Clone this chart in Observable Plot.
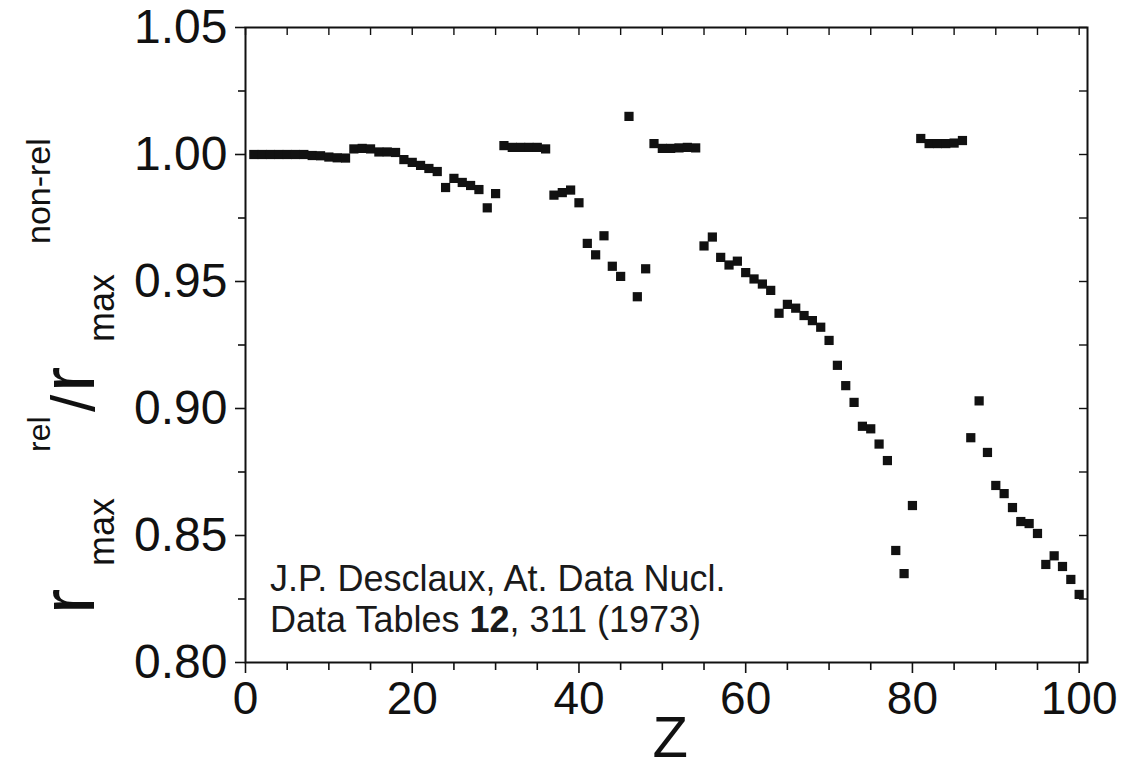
<!DOCTYPE html>
<html>
<head>
<meta charset="utf-8">
<script src="https://cdn.jsdelivr.net/npm/d3@7"></script>
<script src="https://cdn.jsdelivr.net/npm/@observablehq/plot@0.6"></script>
<style>
  html, body { margin: 0; padding: 0; background: #fff; }
  #chart { width: 1124px; height: 771px; }
</style>
</head>
<body>
<div id="chart"></div>
<script>
// Atomic number Z
const atomicNumber = [
  1, 2, 3, 4, 5, 6, 7, 8, 9, 10,
  11, 12, 13, 14, 15, 16, 17, 18, 19, 20,
  21, 22, 23, 24, 25, 26, 27, 28, 29, 30,
  31, 32, 33, 34, 35, 36, 37, 38, 39, 40,
  41, 42, 43, 44, 45, 46, 47, 48, 49, 50,
  51, 52, 53, 54, 55, 56, 57, 58, 59, 60,
  61, 62, 63, 64, 65, 66, 67, 68, 69, 70,
  71, 72, 73, 74, 75, 76, 77, 78, 79, 80,
  81, 82, 83, 84, 85, 86, 87, 88, 89, 90,
  91, 92, 93, 94, 95, 96, 97, 98, 99, 100
];
// r_max(rel) / r_max(non-rel) of the outermost orbital
const rmaxRatio = [
  1.0000, 1.0000, 1.0000, 1.0000, 1.0000, 1.0000, 1.0000, 0.9996, 0.9995, 0.9990,
  0.9987, 0.9986, 1.0022, 1.0024, 1.0022, 1.0010, 1.0010, 1.0008, 0.9980, 0.9969,
  0.9957, 0.9945, 0.9933, 0.9870, 0.9906, 0.9890, 0.9878, 0.9862, 0.9790, 0.9846,
  1.0035, 1.0028, 1.0028, 1.0028, 1.0028, 1.0022, 0.9840, 0.9850, 0.9860, 0.9810,
  0.9650, 0.9605, 0.9680, 0.9560, 0.9520, 1.0150, 0.9440, 0.9550, 1.0043, 1.0024,
  1.0024, 1.0026, 1.0028, 1.0026, 0.9640, 0.9675, 0.9595, 0.9565, 0.9580, 0.9535,
  0.9510, 0.9490, 0.9465, 0.9375, 0.9410, 0.9395, 0.9366, 0.9346, 0.9320, 0.9268,
  0.9170, 0.9090, 0.9024, 0.8930, 0.8920, 0.8860, 0.8795, 0.8441, 0.8350, 0.8618,
  1.0063, 1.0043, 1.0043, 1.0043, 1.0045, 1.0055, 0.8885, 0.9030, 0.8827, 0.8697,
  0.8665, 0.8610, 0.8555, 0.8547, 0.8508, 0.8386, 0.8420, 0.8378, 0.8327, 0.8268
];
const xMajorTicks = [0, 20, 40, 60, 80, 100];
const xMinorTicks = [5, 10, 15, 25, 30, 35, 45, 50, 55, 65, 70, 75, 85, 90, 95];
const yMajorTicks = [0.80, 0.85, 0.90, 0.95, 1.00, 1.05];
const yMinorTicks = [0.825, 0.875, 0.925, 0.975, 1.025];
const xDomain = [0, 101];
const yDomain = [0.80, 1.05];
const xLabel = "Z";
const citationLine1 = "J.P. Desclaux, At. Data Nucl.";
const citationLine2 = ["Data Tables ", "12", ", 311 (1973)"];

const table = atomicNumber.map((z, i) => ({z, r: rmaxRatio[i]}));

const FONT = "'Liberation Sans', Arial, Helvetica, sans-serif";
const INK = "#111";
const W = 1124, H = 771;
const mL = 245, mR = 37, mT = 27, mB = 109;
const plotW = W - mL - mR, plotH = H - mT - mB;

const chart = Plot.plot({
  width: W, height: H,
  marginLeft: mL, marginRight: mR, marginTop: mT, marginBottom: mB,
  style: {fontFamily: FONT, color: INK, background: "#fff", overflow: "visible"},
  x: {domain: xDomain},
  y: {domain: yDomain},
  marks: [
    Plot.axisX(xMajorTicks, {anchor: "bottom", tickSize: 11, tickPadding: 8, strokeWidth: 1.6,
      tickFormat: d => String(d), fontSize: 46, label: null}),
    Plot.axisX(xMinorTicks, {anchor: "bottom", tickSize: 8, strokeWidth: 1.6, text: null, label: null}),
    Plot.axisY(yMajorTicks, {anchor: "left", tickSize: 10, tickPadding: 8, strokeWidth: 1.6,
      tickFormat: d3.format(".2f"), fontSize: 48, label: null}),
    Plot.axisY(yMinorTicks, {anchor: "left", tickSize: 7, strokeWidth: 1.6, text: null, label: null}),
    // inward ticks on top and right edges
    Plot.tickX(xMajorTicks.concat(xMinorTicks), {x: d => d, insetBottom: plotH - 8, stroke: INK, strokeWidth: 1.4}),
    Plot.tickY(yMajorTicks.concat(yMinorTicks), {y: d => d, insetLeft: plotW - 8, stroke: INK, strokeWidth: 1.4}),
    Plot.frame({stroke: INK, strokeWidth: 2}),
    Plot.dot(table, {x: "z", y: "r", symbol: "square", r: 5.2, fill: INK, stroke: "none"})
  ]
});

document.getElementById("chart").appendChild(chart);

const svg = d3.select(chart);

// x-axis title
svg.append("text")
  .attr("x", mL + plotW * 0.505).attr("y", 757)
  .attr("text-anchor", "middle")
  .attr("font-family", FONT).attr("font-size", 58).attr("fill", INK)
  .text(xLabel);

// y-axis title: r_max^rel / r_max^non-rel (rotated)
const ylab = svg.append("text")
  .attr("transform", "rotate(-90)")
  .attr("text-anchor", "start")
  .attr("font-family", FONT).attr("fill", INK);
const yParts = [
  {t: "r", along: 614, base: 94, size: 76},
  {t: "max", along: 566, base: 114, size: 36},
  {t: "rel", along: 452, base: 50, size: 32},
  {t: "/", along: 412, base: 94, size: 62},
  {t: "r", along: 392, base: 94, size: 76},
  {t: "max", along: 342, base: 114, size: 36},
  {t: "non-rel", along: 244, base: 50, size: 34}
];
yParts.forEach(p => ylab.append("tspan")
  .attr("x", -p.along).attr("y", p.base)
  .attr("font-size", p.size).text(p.t));

// citation
const cite = svg.append("g").attr("font-family", FONT).attr("font-size", 36)
  .attr("fill", "#1a1a1a").attr("text-anchor", "start");
cite.append("text").attr("x", 270).attr("y", 591).text(citationLine1);
const l2 = cite.append("text").attr("x", 270).attr("y", 632);
l2.append("tspan").text(citationLine2[0]);
l2.append("tspan").attr("font-weight", "bold").text(citationLine2[1]);
l2.append("tspan").text(citationLine2[2]);
</script>
</body>
</html>
